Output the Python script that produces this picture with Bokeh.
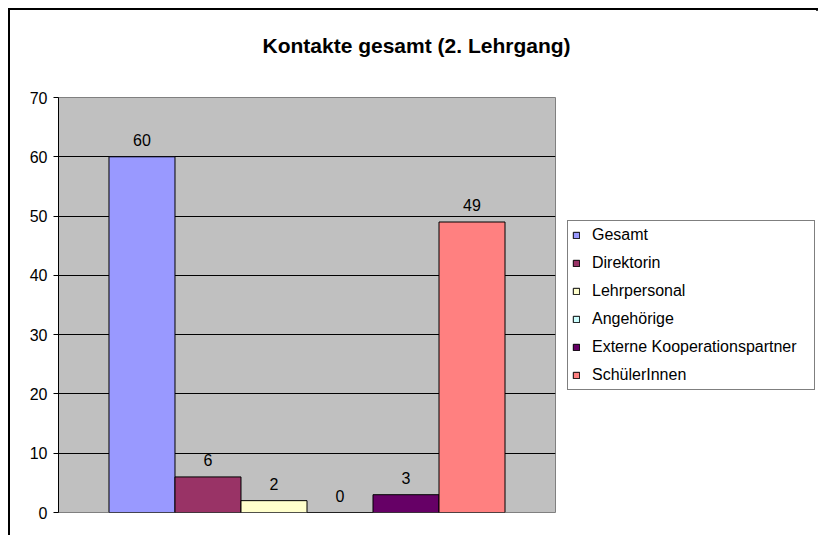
from bokeh.plotting import figure
from bokeh.models import ColumnDataSource, Legend, LegendItem, FixedTicker, Range1d, Title
from bokeh.embed import file_html
from bokeh.resources import INLINE
from bokeh.core.properties import value

# ---- data ----
title_text = "Kontakte gesamt (2. Lehrgang)"
categories = ["Gesamt", "Direktorin", "Lehrpersonal", "Angehörige",
              "Externe Kooperationspartner", "SchülerInnen"]
counts = [60, 6, 2, 0, 3, 49]
colors = ["#9999FF", "#993366", "#FFFFCC", "#CCFFFF", "#660066", "#FF8080"]
y_ticks = [0, 10, 20, 30, 40, 50, 60, 70]

positions = [i - (len(categories) - 1) / 2 for i in range(len(categories))]
src = ColumnDataSource(dict(x=positions, top=counts, cat=categories, color=colors,
                            label=[str(c) for c in counts]))

FONT = "Liberation Sans"

p = figure(frame_width=497, frame_height=415, output_backend="svg", toolbar_location=None,
           x_range=Range1d(-3.765, 3.765), y_range=Range1d(0, 70),
           x_axis_location=None, min_border_left=48, min_border_top=87,
           min_border_bottom=23, min_border_right=261)
p.styles = {"margin": "8px 0 0 8px", "box-sizing": "content-box",
            "width": "806px", "height": "525px",
            "border-top": "2px solid black", "border-left": "2px solid black",
            "border-right": "2px solid black"}

# spacer (closest to the frame) then the real title above it
p.add_layout(Title(text=" ", text_font_size="10px", standoff=28), "above")
p.add_layout(Title(text=title_text, align="left", offset=204, text_font=FONT,
                   text_font_size="21px", text_font_style="bold", text_color="black",
                   standoff=0), "above")

p.background_fill_color = "#C0C0C0"
p.outline_line_color = "#808080"
p.outline_line_width = 1

p.ygrid.ticker = FixedTicker(ticks=[10, 20, 30, 40, 50, 60])
p.ygrid.grid_line_color = "black"
p.ygrid.grid_line_width = 1
p.xgrid.visible = False

yax = p.yaxis[0]
yax.ticker = FixedTicker(ticks=y_ticks)
yax.axis_line_color = "black"
yax.axis_line_width = 1
yax.major_tick_line_color = "black"
yax.major_tick_out = 5
yax.major_tick_in = 0
yax.minor_tick_line_color = None
yax.major_label_text_font = FONT
yax.major_label_text_font_size = "16px"
yax.major_label_text_color = "black"
yax.major_label_standoff = 6

r = p.vbar(x="x", top="top", width=1.0, bottom=0, source=src,
           fill_color="color", line_color="black", line_width=1)

p.text(x="x", y="top", text="label", source=src, text_font=value(FONT),
       text_font_size="16px", text_align="center", text_baseline="alphabetic",
       y_offset=-17, text_color="black")

items = [LegendItem(label=c, renderers=[r], index=i) for i, c in enumerate(categories)]
legend = Legend(items=items, location="center_left", orientation="vertical")
legend.label_text_font = FONT
legend.label_text_font_size = "16px"
legend.label_text_color = "black"
legend.glyph_width = 8
legend.glyph_height = 8
legend.label_standoff = 12
legend.label_height = 20
legend.label_width = 218
legend.spacing = 8
legend.padding = 4
legend.margin = 12
legend.border_line_color = "black"
legend.border_line_width = 1
legend.background_fill_color = "white"
legend.background_fill_alpha = 1
p.add_layout(legend, "right")

open("out.html", "w").write(file_html(p, INLINE))
